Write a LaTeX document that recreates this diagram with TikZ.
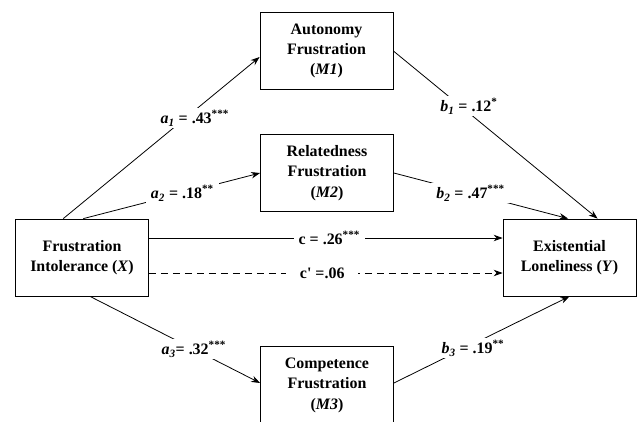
\documentclass[tikz,border=0pt]{standalone}
\usepackage{fontspec}
\setmainfont{Liberation Serif}
\usetikzlibrary{positioning, arrows.meta, calc}

\tikzset{
  var/.style={draw, line width=0.8pt, minimum width=133bp, minimum height=77bp,
    align=center, inner sep=2pt, font=\bfseries\fontsize{16}{20.5}\selectfont},
  effect/.style={line width=0.8pt, -{Stealth[length=9pt, width=6.5pt]}},
  coef/.style={fill=white, inner xsep=5pt, inner ysep=2pt, font=\bfseries\fontsize{16}{19}\selectfont},
}

\begin{document}
\begin{tikzpicture}[x=1bp, y=-1bp]
        \clip (0,0) rectangle (637,421);

        % variables
        \node[var] (x) at (82,257.5) {Frustration\\Intolerance (\textit{X})};
        \node[var] (m1) at (326.5,51) {Autonomy\\Frustration\\(\textit{M1})};
        \node[var] (m2) at (327,173) {Relatedness\\Frustration\\(\textit{M2})};
        \node[var] (m3) at (327,385) {Competence\\Frustration\\(\textit{M3})};
        \node[var] (y) at (569.5,257.5) {Existential\\Loneliness (\textit{Y})};

        % a paths
        \draw[effect] ($(x.north west)!0.36!(x.north east)$) -- node[coef, pos=0.67, yshift=-8pt]
          {\textit{a}\textsubscript{\textit{1}} = .43\textsuperscript{***}} ($(m1.west)+(0,6)$);
        \draw[effect] ($(x.north west)!0.51!(x.north east)$) -- node[coef, pos=0.56]
          {\textit{a}\textsubscript{\textit{2}} = .18\textsuperscript{**}} (m2.west);
        \draw[effect] ($(x.south west)!0.56!(x.south east)$) -- node[coef, pos=0.61]
          {\textit{a}\textsubscript{\textit{3}}= .32\textsuperscript{***}} ($(m3.west)+(0,-2)$);

        % b paths
        \draw[effect] (m1.east) -- node[coef, pos=0.37, yshift=7pt]
          {\textit{b}\textsubscript{\textit{1}} = .12\textsuperscript{*}} ($(y.north west)!0.71!(y.north east)$);
        \draw[effect] (m2.east) -- node[coef, pos=0.44]
          {\textit{b}\textsubscript{\textit{2}} = .47\textsuperscript{***}} ($(y.north west)!0.49!(y.north east)$);
        \draw[effect] ($(m3.east)+(0,-2)$) -- node[coef, pos=0.45, yshift=-4pt]
          {\textit{b}\textsubscript{\textit{3}} = .19\textsuperscript{**}} ($(y.south west)!0.5!(y.south east)$);

        % c and c'
        \draw[effect] ($(x.east)+(0,-19.5)$) -- node[coef, pos=0.51]
          {c = .26\textsuperscript{***}} ($(y.west)+(0,-19.5)$);
        \draw[effect, dash pattern=on 7bp off 5bp] ($(x.east)+(0,15.5)$) -- node[coef, pos=0.49, inner xsep=14pt]
          {c\textquotesingle{} =.06} ($(y.west)+(0,15.5)$);
\end{tikzpicture}
\end{document}
